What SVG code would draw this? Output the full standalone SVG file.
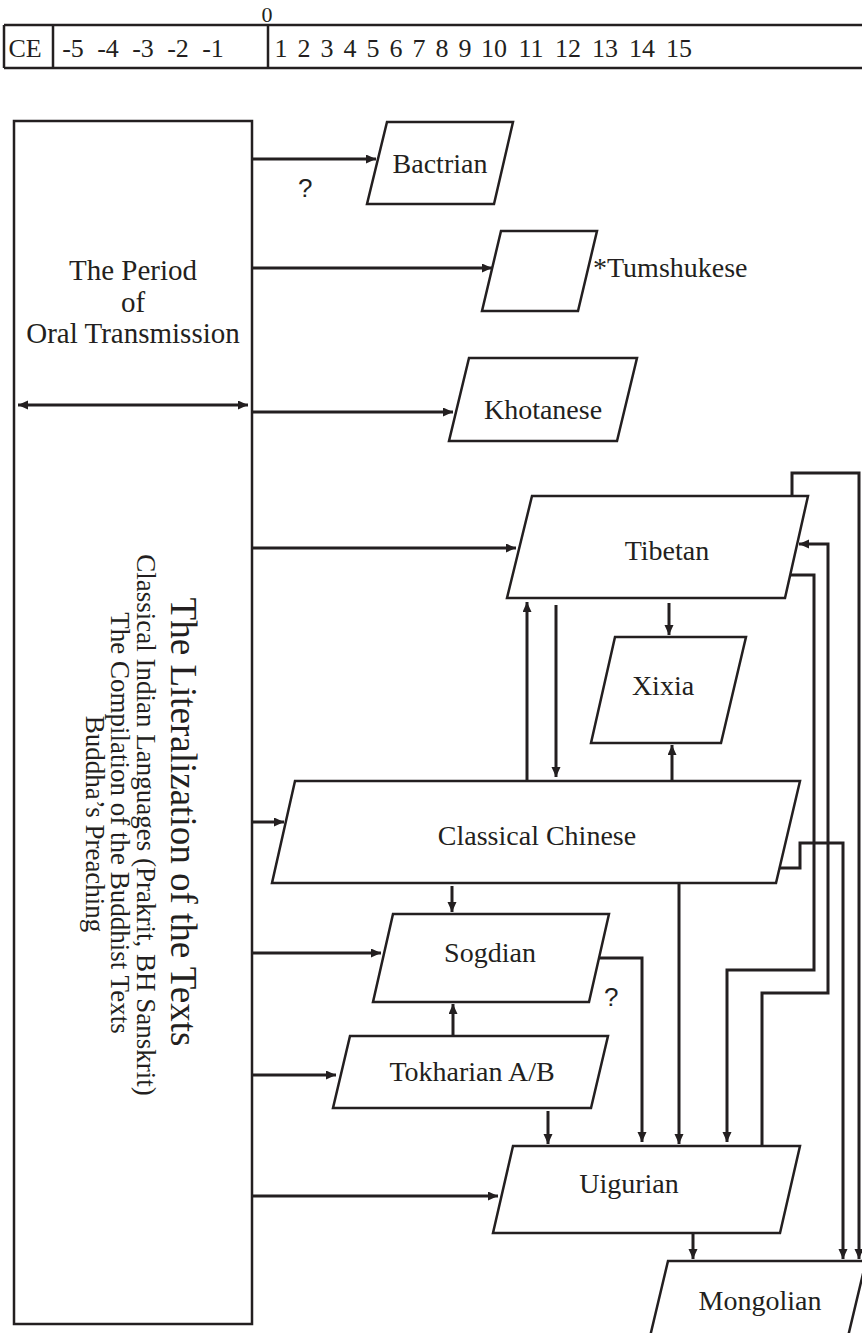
<svg xmlns="http://www.w3.org/2000/svg" width="862" height="1333" viewBox="0 0 862 1333">
<defs>
<marker id="ah" markerUnits="userSpaceOnUse" markerWidth="11" markerHeight="10" refX="10" refY="4.5" orient="auto-start-reverse">
<path d="M0,0 L10,4.5 L0,9 z" fill="#231f20"/>
</marker>
<style>
.shape{fill:#fff;stroke:#231f20;stroke-width:2.5}
.conn{fill:none;stroke:#231f20;stroke-width:3;marker-end:url(#ah)}
.tl{fill:none;stroke:#231f20;stroke-width:2.5}
text{font-family:"Liberation Serif",serif;fill:#231f20}
.lbl{font-size:28px;text-anchor:middle}
.num{font-size:26px;text-anchor:middle}
.q{font-family:"Liberation Sans",sans-serif;font-size:26px}
</style>
</defs>
<rect width="862" height="1333" fill="#fff"/>

<g id="timeline">
<path class="tl" d="M4,25 H862 M4,68 H862 M4,25 V68 M53,25 V68 M268,25 V68"/>
<text class="num" x="267" y="22" style="font-size:22px">0</text>
<text class="num" x="25" y="57">CE</text>
<text class="num" x="73" y="57">-5</text>
<text class="num" x="108" y="57">-4</text>
<text class="num" x="143" y="57">-3</text>
<text class="num" x="178" y="57">-2</text>
<text class="num" x="213" y="57">-1</text>
<text class="num" x="281" y="57">1</text>
<text class="num" x="304" y="57">2</text>
<text class="num" x="327" y="57">3</text>
<text class="num" x="350" y="57">4</text>
<text class="num" x="373" y="57">5</text>
<text class="num" x="396" y="57">6</text>
<text class="num" x="419" y="57">7</text>
<text class="num" x="442" y="57">8</text>
<text class="num" x="465" y="57">9</text>
<text class="num" x="494" y="57">10</text>
<text class="num" x="531" y="57">11</text>
<text class="num" x="568" y="57">12</text>
<text class="num" x="605" y="57">13</text>
<text class="num" x="642" y="57">14</text>
<text class="num" x="679" y="57">15</text>
</g>

<g id="oral">
<rect class="shape" x="14" y="121" width="238" height="1203"/>
<text class="lbl" x="133" y="280" style="font-size:29px">The Period</text>
<text class="lbl" x="133" y="312" style="font-size:29px">of</text>
<text class="lbl" x="133" y="343" style="font-size:29px">Oral Transmission</text>
<text transform="translate(171,822) rotate(90)" text-anchor="middle" style="font-size:37px">The Literalization of the Texts</text>
<text transform="translate(137,825) rotate(90)" text-anchor="middle" style="font-size:27px">Classical Indian Languages (Prakrit, BH Sanskrit)</text>
<text transform="translate(111,823) rotate(90)" text-anchor="middle" style="font-size:27px">The Compilation of the Buddhist Texts</text>
<text transform="translate(86,824) rotate(90)" text-anchor="middle" style="font-size:27px">Buddha’s Preaching</text>
</g>

<g id="bactrian">
<polygon class="shape" points="387,122 513,122 494,204 367,204"/>
<text class="lbl" x="440" y="173">Bactrian</text>
</g>
<g id="tumshukese">
<polygon class="shape" points="501,231 597,231 578,311 482,311"/>
<text x="593" y="277" style="font-size:28px">*Tumshukese</text>
</g>
<g id="khotanese">
<polygon class="shape" points="469,358 637,358 617,441 449,441"/>
<text class="lbl" x="543" y="419">Khotanese</text>
</g>
<g id="tibetan">
<polygon class="shape" points="532,496 808,496 785,598 507,598"/>
<text class="lbl" x="667" y="560">Tibetan</text>
</g>
<g id="xixia">
<polygon class="shape" points="615,637 746,637 721,743 591,743"/>
<text class="lbl" x="663" y="695">Xixia</text>
</g>
<g id="classical-chinese">
<polygon class="shape" points="295,781 800,781 776,883 272,883"/>
<text class="lbl" x="537" y="845">Classical Chinese</text>
</g>
<g id="sogdian">
<polygon class="shape" points="393,914 609,914 589,1002 373,1002"/>
<text class="lbl" x="490" y="962">Sogdian</text>
</g>
<g id="tokharian">
<polygon class="shape" points="350,1036 608,1036 591,1108 333,1108"/>
<text class="lbl" x="472" y="1081">Tokharian A/B</text>
</g>
<g id="uigurian">
<polygon class="shape" points="513,1146 800,1146 780,1233 493,1233"/>
<text class="lbl" x="629" y="1193">Uigurian</text>
</g>
<g id="mongolian">
<polygon class="shape" points="668,1261 866,1261 846,1345 648,1345"/>
<text class="lbl" x="760" y="1310">Mongolian</text>
</g>

<g id="connectors">
<path class="conn" d="M252,159 H376"/>
<path class="conn" d="M252,268 H492"/>
<path class="conn" d="M252,412 H453"/>
<path class="conn" d="M18,405 H248" style="marker-start:url(#ah)"/>
<path class="conn" d="M252,548 H516"/>
<path class="conn" d="M252,822 H284"/>
<path class="conn" d="M252,953 H381"/>
<path class="conn" d="M252,1075 H336"/>
<path class="conn" d="M252,1196 H498"/>
<path class="conn" d="M669,603 V635"/>
<path class="conn" d="M672,781 V745"/>
<path class="conn" d="M527,781 V602"/>
<path class="conn" d="M556,605 V777"/>
<path class="conn" d="M452,886 V912"/>
<path class="conn" d="M453,1036 V1004"/>
<path class="conn" d="M548,1111 V1144"/>
<path class="conn" d="M599,958 H642 V1142"/>
<path class="conn" d="M679,883 V1144"/>
<path class="conn" d="M790,575 H814 V970 H727 V1142"/>
<path class="conn" d="M762,1146 V993 H828 V544 H799"/>
<path class="conn" d="M780,868 H800 V843 H843 V1259"/>
<path class="conn" d="M792,496 V473 H859 V1259"/>
<path class="conn" d="M693,1233 V1259"/>
</g>
<g id="labels">
<text class="q" x="298" y="197">?</text>
<text class="q" x="604" y="1006">?</text>
</g>
</svg>
